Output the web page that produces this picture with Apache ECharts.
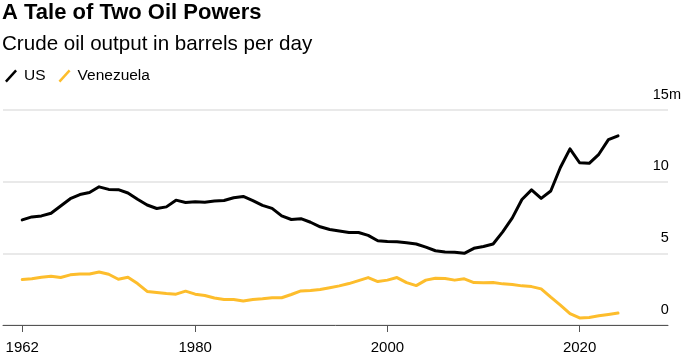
<!DOCTYPE html>
<html>
<head>
<meta charset="utf-8">
<script src="https://cdn.jsdelivr.net/npm/echarts@6/dist/echarts.min.js"></script>
<style>
  html, body { margin: 0; padding: 0; background: #fff; }
  #chart { width: 685px; height: 359px; }
</style>
</head>
<body>
<div id="chart"></div>
<script>
const titleText = 'A Tale of Two Oil Powers';
const subtitleText = 'Crude oil output in barrels per day';
const seriesNames = ['US', 'Venezuela'];
const years = [];
for (let y = 1962; y <= 2024; y++) years.push(y);
const usOutput = [
  7.33, 7.54, 7.61, 7.80, 8.30, 8.81, 9.10, 9.24, 9.64, 9.46,
  9.44, 9.21, 8.77, 8.37, 8.13, 8.24, 8.71, 8.55, 8.60, 8.57,
  8.65, 8.69, 8.88, 8.97, 8.68, 8.35, 8.14, 7.61, 7.36, 7.42,
  7.17, 6.85, 6.66, 6.56, 6.46, 6.45, 6.25, 5.88, 5.82, 5.80,
  5.74, 5.65, 5.43, 5.18, 5.09, 5.08, 5.00, 5.35, 5.48, 5.65,
  6.50, 7.47, 8.76, 9.43, 8.83, 9.35, 10.99, 12.29, 11.32, 11.28,
  11.91, 12.93, 13.20
];
const venezuelaOutput = [
  3.17, 3.22, 3.33, 3.40, 3.31, 3.50, 3.56, 3.56, 3.70, 3.54,
  3.19, 3.33, 2.89, 2.34, 2.27, 2.20, 2.15, 2.36, 2.15, 2.06,
  1.88, 1.78, 1.78, 1.67, 1.78, 1.83, 1.90, 1.90, 2.13, 2.38,
  2.40, 2.48, 2.60, 2.73, 2.89, 3.10, 3.31, 3.03, 3.13, 3.31,
  2.96, 2.75, 3.13, 3.26, 3.24, 3.13, 3.22, 2.96, 2.94, 2.96,
  2.87, 2.82, 2.73, 2.68, 2.52, 1.94, 1.39, 0.79, 0.49, 0.53,
  0.65, 0.74, 0.83
];
const xTickYears = [1962, 1980, 2000, 2020];
const yTicks = [0, 5, 10, 15];

const FONT = "'Liberation Sans', Arial, Helvetica, sans-serif";
const slashIcon = 'path://M0,11.2 L10.2,0 L12,1.7 L1.8,12.9 Z';

const chart = echarts.init(document.getElementById('chart'), null, { renderer: 'canvas' });
chart.setOption({
  animation: false,
  backgroundColor: '#fff',
  textStyle: { fontFamily: FONT },
  title: [
    { text: titleText, left: 2, top: 2, padding: 0,
      textStyle: { fontFamily: FONT, fontSize: 22, fontWeight: 'bold', color: '#000' } },
    { text: subtitleText, left: 2, top: 34, padding: 0,
      textStyle: { fontFamily: FONT, fontSize: 20.6, fontWeight: 'normal', color: '#000' } }
  ],
  legend: {
    left: 5, top: 68, padding: 0,
    itemWidth: 12, itemHeight: 13, itemGap: 13,
    icon: slashIcon,
    data: seriesNames,
    textStyle: { fontFamily: FONT, fontSize: 15.5, color: '#000', padding: [0, 0, 0, 2] }
  },
  grid: { left: 3, right: 17, top: 110, bottom: 34, containLabel: false },
  xAxis: {
    type: 'value', min: 1960, max: 2029.2,
    splitLine: { show: false },
    axisLine: { show: true, lineStyle: { color: '#555', width: 1 } },
    axisTick: { show: true, customValues: xTickYears, length: 7, lineStyle: { color: '#555', width: 1 } },
    axisLabel: { customValues: xTickYears, margin: 15, fontSize: 15, color: '#000', fontFamily: FONT,
      formatter: v => String(v) }
  },
  yAxis: {
    type: 'value', position: 'right', min: 0, max: 15, interval: 5,
    axisLine: { show: false },
    axisTick: { show: false },
    splitLine: { show: true, lineStyle: { color: '#e2e2e2', width: 1.5 } },
    axisLabel: {
      inside: false, align: 'right', verticalAlign: 'bottom', margin: 13,
      padding: [0, 0, 8, 0],
      formatter: v => (v === 15 ? '{n|15}{u|m}' : '{n|' + v + '}{h|m}'),
      rich: {
        n: { fontSize: 14.5, color: '#000', fontFamily: FONT },
        u: { fontSize: 14.5, color: '#000', fontFamily: FONT },
        h: { fontSize: 14.5, color: 'rgba(0,0,0,0)', fontFamily: FONT }
      }
    }
  },
  series: [
    { name: seriesNames[0], type: 'line', showSymbol: false, symbol: 'none',
      data: years.map((y, i) => [y, usOutput[i]]),
      itemStyle: { color: '#000' },
      lineStyle: { color: '#000', width: 3, cap: 'round', join: 'round' } },
    { name: seriesNames[1], type: 'line', showSymbol: false, symbol: 'none',
      data: years.map((y, i) => [y, venezuelaOutput[i]]),
      itemStyle: { color: '#fdbd2c' },
      lineStyle: { color: '#fdbd2c', width: 3, cap: 'round', join: 'round' } }
  ]
});
</script>
</body>
</html>
